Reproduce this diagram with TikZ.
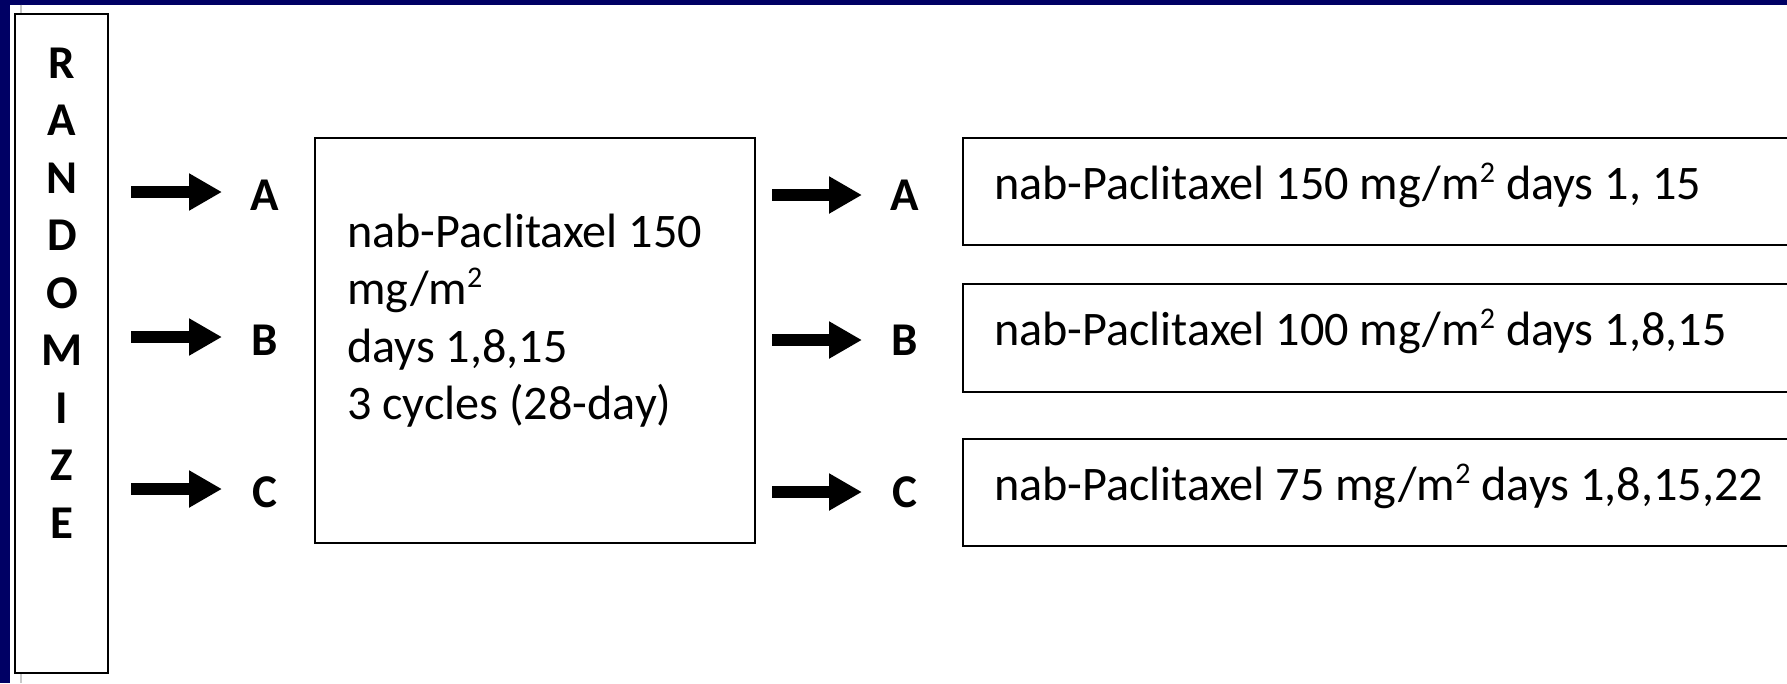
\documentclass[tikz,border=0pt]{standalone}
\usepackage{fontspec}
\setmainfont{Carlito}
\usetikzlibrary{arrows.meta}
\definecolor{navy}{RGB}{0,0,100}
\definecolor{faintrule}{RGB}{200,200,200}
% superscript two for mg/m^2
\newcommand\suptwo{\raisebox{17pt}{\fontsize{30}{30}\selectfont 2}}
% plain interword spaces inside aligned nodes
\newcommand\plainspaces{\spaceskip=0pt\relax\xspaceskip=0pt\relax}

\begin{document}
\begin{tikzpicture}[x=1pt,y=-1pt,
  frame/.style={draw=black, line width=2.2pt, fill=white, inner sep=0pt, outer sep=0pt, anchor=north west},
  body/.style={font=\fontsize{48.2}{57.5}\selectfont},
  arm/.style={font=\bfseries\fontsize{47}{57.5}\selectfont, inner sep=0pt, outer sep=0pt,
              minimum width=30pt, text height=30pt, text depth=0pt},
  blockarrow/.style={line width=12pt, -{Triangle[length=33pt,width=35pt]}, shorten >=28pt},
  dosebox/.style={frame, body, minimum height=107pt, text width=838pt, inner xsep=31pt,
                  align=left, text height=35pt, text depth=20pt}
]
\clip (0,0) rectangle (1787,683);
\fill[white] (0,0) rectangle (1787,683);

% slide frame
\fill[navy] (0,0) rectangle (1787,4.5);
\fill[navy] (0,0) rectangle (10,683);
\draw[faintrule, line width=2pt] (21,4.5) -- (21,683);

% randomisation column
\node[frame, minimum width=93pt, minimum height=659pt] (rand) at (15,14) {};
\node[font=\bfseries\fontsize{47}{57.5}\selectfont, align=center, anchor=north, inner sep=0pt]
  (randtxt) at (62,43) {\rule{0pt}{35pt}R\\A\\N\\D\\O\\M\\I\\Z\\E};

% arm labels before induction
\node[arm] (la) at (265,195) {A};
\node[arm] (lb) at (265,340) {B};
\node[arm] (lc) at (265,492) {C};
\coordinate (sa) at (131,192);
\coordinate (sb) at (131,337);
\coordinate (sc) at (131,489);
\draw[blockarrow] (sa) -- (sa -| la.west);
\draw[blockarrow] (sb) -- (sb -| lb.west);
\draw[blockarrow] (sc) -- (sc -| lc.west);

% induction phase
\node[frame, minimum width=440pt, minimum height=405pt] (mid) at (315,138) {};
\node[body, align=left, anchor=north west, inner sep=0pt] (midtxt) at (347,212)
  {\plainspaces\rule{0pt}{35pt}nab-Paclitaxel 150\\ mg/m\suptwo\\ days 1,8,15\\ 3 cycles (28-day)};

% arm labels after induction
\node[arm] (ra) at (905,195) {A};
\node[arm] (rb) at (905,340) {B};
\node[arm] (rc) at (905,492) {C};
\coordinate (ta) at (772,195);
\coordinate (tb) at (772,340);
\coordinate (tc) at (772,492);
\draw[blockarrow] (ta) -- (ra);
\draw[blockarrow] (tb) -- (rb);
\draw[blockarrow] (tc) -- (rc);

% maintenance schedules
\node[dosebox] (da) at (963,138) {\plainspaces nab-Paclitaxel 150 mg/m\suptwo{} days 1, 15};
\node[dosebox, minimum height=108pt] (db) at (963,284) {\plainspaces nab-Paclitaxel 100 mg/m\suptwo{} days 1,8,15};
\node[dosebox] (dc) at (963,439) {\plainspaces nab-Paclitaxel 75 mg/m\suptwo{} days 1,8,15,22};
\end{tikzpicture}
\end{document}
